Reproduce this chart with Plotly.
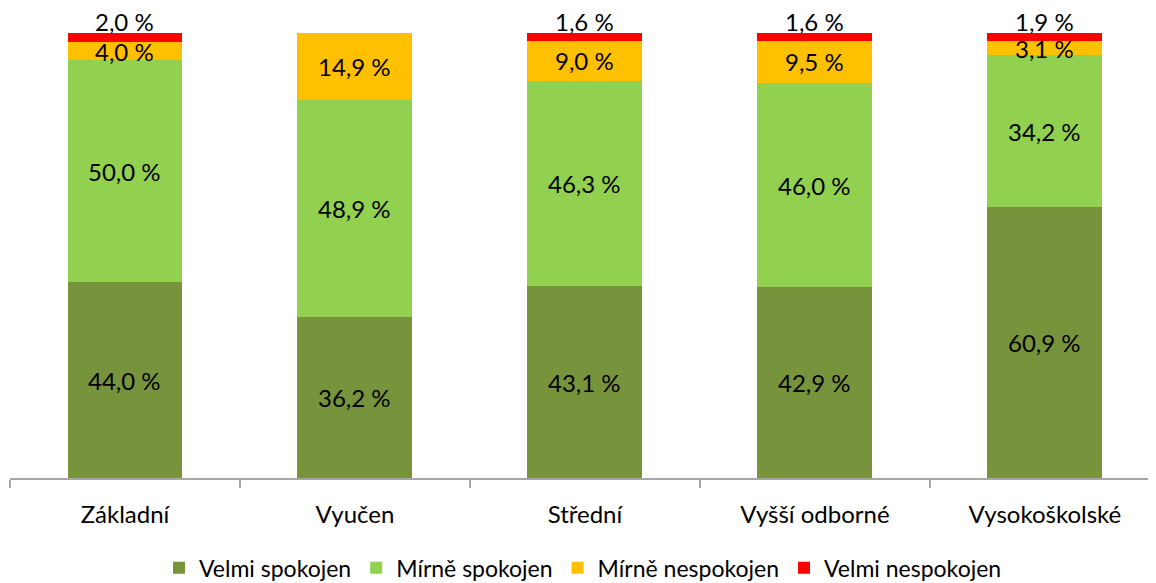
'''
stacked 100 % bar chart: spokojenost podle vzdelani
'''
import plotly.graph_objects as go

categories = ['Základní', 'Vyučen', 'Střední', 'Vyšší odborné', 'Vysokoškolské']
velmi_spokojen = [44.0, 36.2, 43.1, 42.9, 60.9]
mirne_spokojen = [50.0, 48.9, 46.3, 46.0, 34.2]
mirne_nespokojen = [4.0, 14.9, 9.0, 9.5, 3.1]
velmi_nespokojen = [2.0, 0.0, 1.6, 1.6, 1.9]

series = [
    ('Velmi spokojen', velmi_spokojen, '#77933C'),
    ('Mírně spokojen', mirne_spokojen, '#92D050'),
    ('Mírně nespokojen', mirne_nespokojen, '#FFC000'),
    ('Velmi nespokojen', velmi_nespokojen, '#FF0000'),
]

def fmt(value: float) -> str:
    return f'{value:.1f} %'.replace('.', ',')

figure = go.Figure()
bottoms = [0.0] * len(categories)
annotations = []
for index, (name, values, colour) in enumerate(series):
    figure.add_trace(go.Bar(x=categories, y=values, name=name,
                            marker=dict(color=colour, line=dict(width=0)),
                            hoverinfo='skip'))
    for position, value in enumerate(values):
        if value > 0:
            last = index == len(series) - 1
            annotations.append(dict(
                x=categories[position],
                y=bottoms[position] + value if last else bottoms[position] + value / 2,
                yanchor='bottom' if last else 'middle',
                yshift=-5 if last else 0,
                text=fmt(value), showarrow=False,
                font=dict(size=24, color='black')))
        bottoms[position] += value

# the page body has an 8 px margin, so the figure is a bit smaller than the window
figure.update_layout(
    barmode='stack', bargap=0.5,
    width=1148, height=575,
    margin=dict(l=2, r=0, t=25, b=105, autoexpand=False),
    paper_bgcolor='white', plot_bgcolor='white',
    font=dict(family='Lato, Open Sans, sans-serif', size=24, color='black'),
    annotations=annotations,
    showlegend=True,
    legend=dict(orientation='h', x=0.5, xanchor='center', y=-0.202, yanchor='middle',
                font=dict(size=23), itemwidth=30, traceorder='normal'),
)
figure.update_xaxes(range=[-0.5, 4.483], showline=True, linecolor='#A6A6A6', linewidth=1.5,
                    ticks='outside', tickson='boundaries', ticklen=8,
                    tickcolor='#A6A6A6', tickwidth=1.5, ticklabelstandoff=14,
                    tickfont=dict(size=24))
#top of range = highest stack so every top label stays visible
figure.update_yaxes(visible=False, range=[0, max(bottoms)], showgrid=False)
figure.write_html('out.html')
